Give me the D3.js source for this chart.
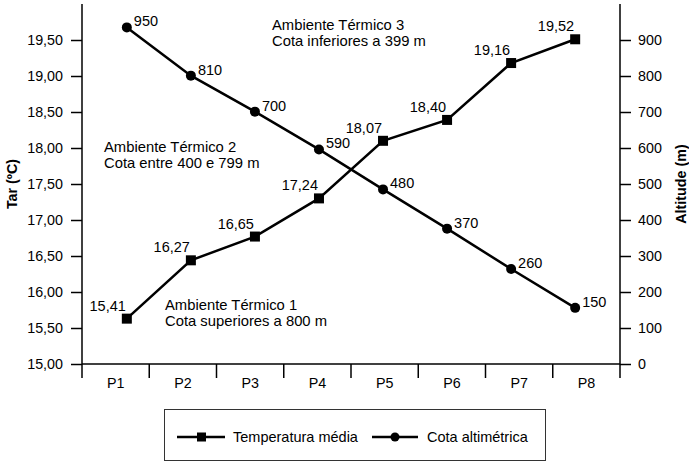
<!DOCTYPE html>
<html lang="pt">
<head>
<meta charset="utf-8">
<script src="https://cdn.jsdelivr.net/npm/d3@7"></script>
<style>
  body { margin: 0; background: #fff; }
  svg text { font-family: "Liberation Sans", Arial, sans-serif; fill: #000; }
</style>
</head>
<body>
<script>
// dados
var pontos = ['P1', 'P2', 'P3', 'P4', 'P5', 'P6', 'P7', 'P8'];
var tempMedia = [15.63, 16.44, 16.77, 17.30, 18.10, 18.39, 19.18, 19.51];
var tempRotulos = ['15,41', '16,27', '16,65', '17,24', '18,07', '18,40', '19,16', '19,52'];
var cotaAlt = [935, 801, 701, 596, 485, 376, 264, 156];
var cotaRotulos = ['950', '810', '700', '590', '480', '370', '260', '150'];
var tempTicks = [15, 15.5, 16, 16.5, 17, 17.5, 18, 18.5, 19, 19.5];
var altTicks = [0, 100, 200, 300, 400, 500, 600, 700, 800, 900];
var ambientes = [
  ['Ambiente Térmico 3', 'Cota inferiores a 399 m'],
  ['Ambiente Térmico 2', 'Cota entre 400 e 799 m'],
  ['Ambiente Térmico 1', 'Cota superiores a 800 m']
];

var W = 689, H = 461;
var mLeft = 82, mRight = 620, mTop = 4, mBottom = 364;

var svg = d3.select('body').append('svg')
  .attr('width', W).attr('height', H);

var yT = d3.scaleLinear().domain([15, 20]).range([mBottom, mTop]);
var yA = d3.scaleLinear().domain([0, 1000]).range([mBottom, mTop]);
var xBand = d3.scaleBand().domain(pontos).range([mLeft, mRight]);
var xPt = d3.scalePoint().domain(pontos).range([mLeft, mRight]).padding(0.7);

var fmt = function(d) { return d3.format('.2f')(d).replace('.', ','); };

// eixo esquerdo
var gL = svg.append('g').attr('transform', 'translate(' + mLeft + ',0)')
  .call(d3.axisLeft(yT).tickValues(tempTicks).tickFormat(fmt).tickSize(11).tickPadding(8));
// eixo direito
var gR = svg.append('g').attr('transform', 'translate(' + mRight + ',0)')
  .call(d3.axisRight(yA).tickValues(altTicks).tickSize(11).tickPadding(7));
[gL, gR].forEach(function(g) {
  g.select('.domain').remove();
  g.selectAll('line').attr('stroke', '#000').attr('stroke-width', 1.5);
  g.selectAll('text').style('font-size', '14.3px').attr('fill', '#000');
});
svg.append('line').attr('x1', mLeft).attr('x2', mLeft).attr('y1', mTop).attr('y2', mBottom + 14)
  .attr('stroke', '#000').attr('stroke-width', 1.5);
svg.append('line').attr('x1', mRight).attr('x2', mRight).attr('y1', mTop).attr('y2', mBottom + 14)
  .attr('stroke', '#000').attr('stroke-width', 1.5);

// eixo inferior
svg.append('line').attr('x1', mLeft).attr('x2', mRight).attr('y1', mBottom).attr('y2', mBottom)
  .attr('stroke', '#000').attr('stroke-width', 1.5);
svg.append('g').selectAll('line').data(pontos.slice(1)).enter().append('line')
  .attr('x1', function(d) { return xBand(d); })
  .attr('x2', function(d) { return xBand(d); })
  .attr('y1', mBottom).attr('y2', mBottom + 14)
  .attr('stroke', '#000').attr('stroke-width', 1.5);
svg.append('g').selectAll('text').data(pontos).enter().append('text')
  .attr('x', function(d) { return xBand(d) + xBand.bandwidth() / 2; })
  .attr('y', mBottom + 24)
  .attr('text-anchor', 'middle')
  .style('font-size', '14.3px')
  .text(function(d) { return d; });

// titulos dos eixos
svg.append('text')
  .attr('transform', 'translate(17,' + (mTop + mBottom) / 2 + ') rotate(-90)')
  .attr('text-anchor', 'middle').style('font-size', '14.3px').style('font-weight', 'bold')
  .text('Tar (ºC)');
svg.append('text')
  .attr('transform', 'translate(686,' + (mTop + mBottom) / 2 + ') rotate(-90)')
  .attr('text-anchor', 'middle').style('font-size', '14.3px').style('font-weight', 'bold')
  .text('Altitude (m)');

// linhas
var lineT = d3.line().x(function(d, i) { return xPt(pontos[i]); }).y(function(d) { return yT(d); });
var lineA = d3.line().x(function(d, i) { return xPt(pontos[i]); }).y(function(d) { return yA(d); });
svg.append('path').datum(cotaAlt).attr('d', lineA)
  .attr('fill', 'none').attr('stroke', '#000').attr('stroke-width', 2.5);
svg.append('path').datum(tempMedia).attr('d', lineT)
  .attr('fill', 'none').attr('stroke', '#000').attr('stroke-width', 2.5);

svg.append('g').selectAll('circle').data(cotaAlt).enter().append('circle')
  .attr('cx', function(d, i) { return xPt(pontos[i]); })
  .attr('cy', function(d) { return yA(d); })
  .attr('r', 5).attr('fill', '#000');
svg.append('g').selectAll('rect').data(tempMedia).enter().append('rect')
  .attr('x', function(d, i) { return xPt(pontos[i]) - 5; })
  .attr('y', function(d) { return yT(d) - 5; })
  .attr('width', 10).attr('height', 10).attr('fill', '#000');

// rotulos
svg.append('g').selectAll('text').data(cotaAlt).enter().append('text')
  .attr('x', function(d, i) { return xPt(pontos[i]) + 7; })
  .attr('y', function(d) { return yA(d) - 1; })
  .style('font-size', '14.5px')
  .text(function(d, i) { return cotaRotulos[i]; });
svg.append('g').selectAll('text').data(tempMedia).enter().append('text')
  .attr('x', function(d, i) { return xPt(pontos[i]) - 1; })
  .attr('y', function(d) { return yT(d) - 8; })
  .attr('text-anchor', 'end')
  .style('font-size', '14.5px')
  .text(function(d, i) { return tempRotulos[i]; });

// ambientes termicos
var posAmb = [[272, 30], [104, 152], [165, 310]];
ambientes.forEach(function(a, k) {
  var t = svg.append('text').style('font-size', '14.8px');
  a.forEach(function(s, j) {
    t.append('tspan').attr('x', posAmb[k][0]).attr('y', posAmb[k][1] + j * 16).text(s);
  });
});

// legenda
var lg = svg.append('g');
lg.append('rect').attr('x', 164.5).attr('y', 409.5).attr('width', 381).attr('height', 51)
  .attr('fill', 'none').attr('stroke', '#333').attr('stroke-width', 1);
var ly = 437;
lg.append('line').attr('x1', 177).attr('x2', 225).attr('y1', ly).attr('y2', ly)
  .attr('stroke', '#000').attr('stroke-width', 2.5);
lg.append('rect').attr('x', 197).attr('y', ly - 4.5).attr('width', 9).attr('height', 9).attr('fill', '#000');
lg.append('text').attr('x', 233).attr('y', ly + 5).style('font-size', '14.5px').text('Temperatura média');
lg.append('line').attr('x1', 372).attr('x2', 418).attr('y1', ly).attr('y2', ly)
  .attr('stroke', '#000').attr('stroke-width', 2.5);
lg.append('circle').attr('cx', 395).attr('cy', ly).attr('r', 4.5).attr('fill', '#000');
lg.append('text').attr('x', 427).attr('y', ly + 5).style('font-size', '14.5px').text('Cota altimétrica');
</script>
</body>
</html>
